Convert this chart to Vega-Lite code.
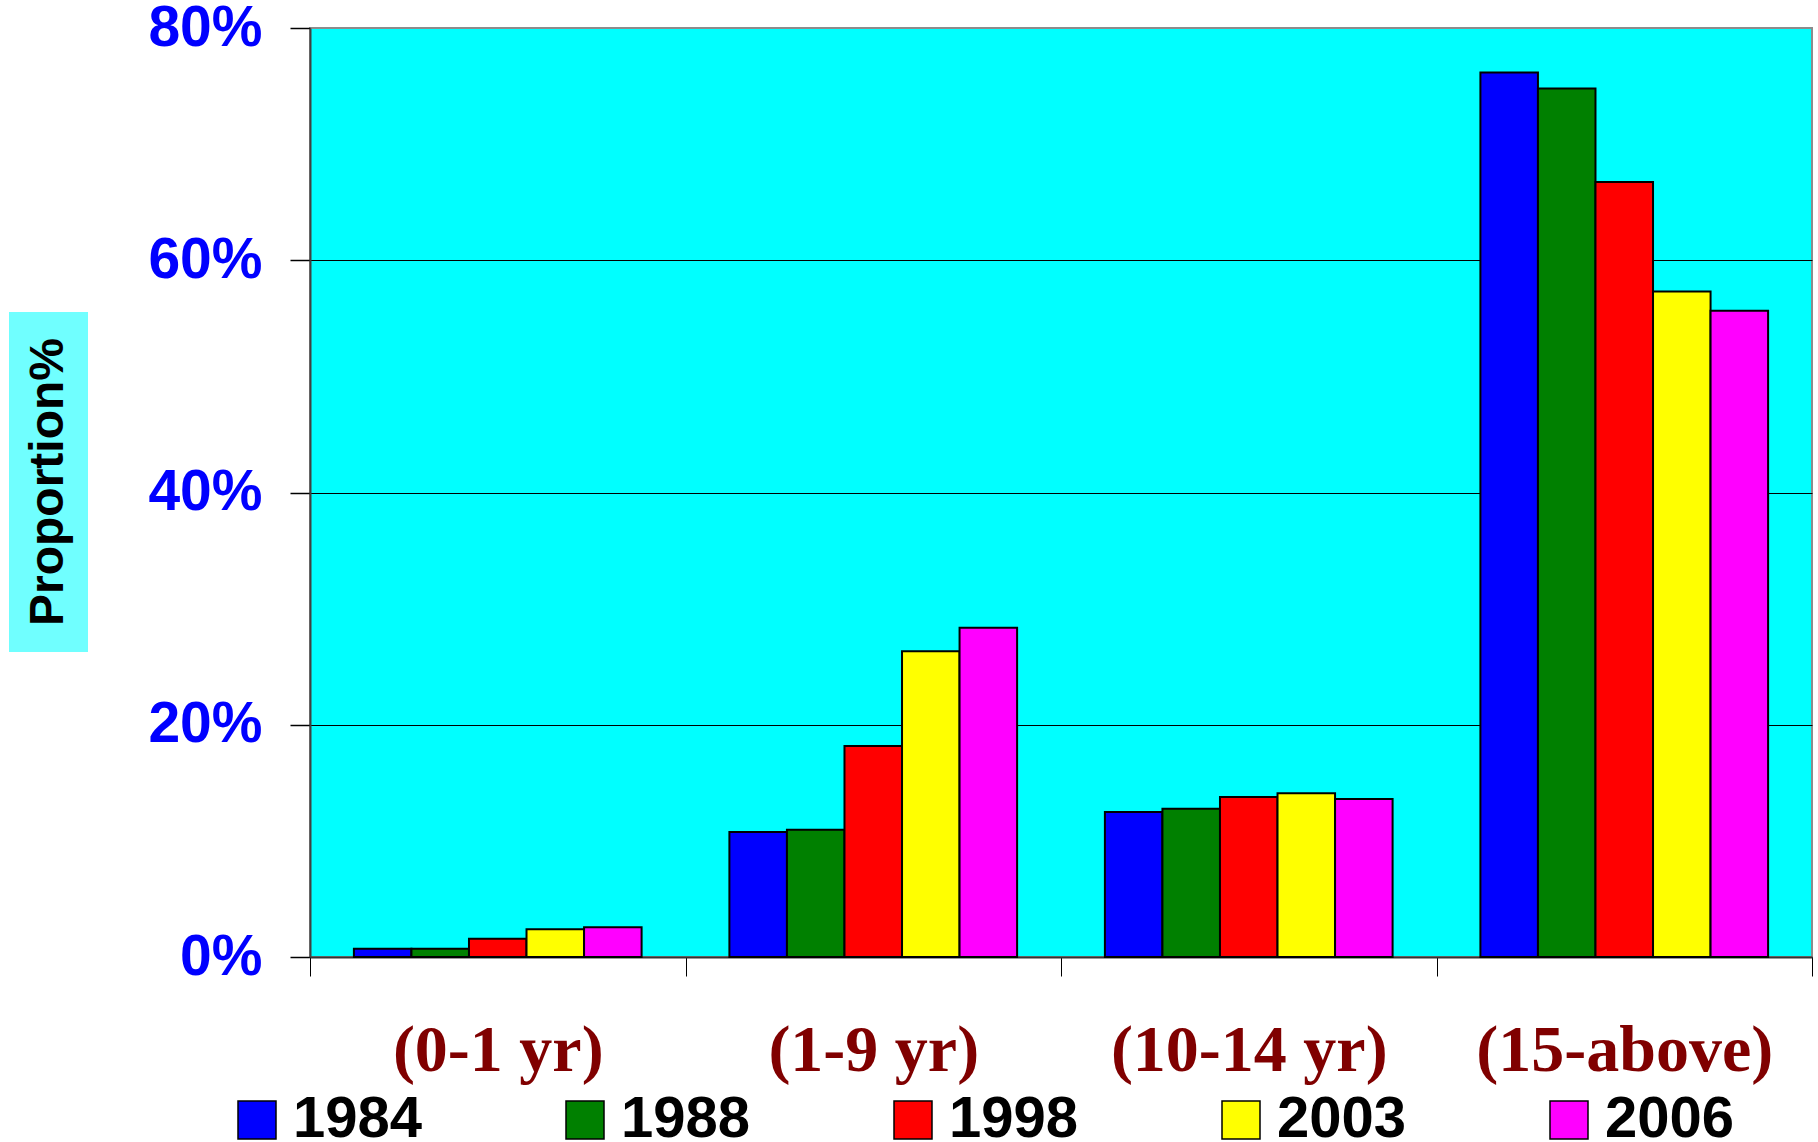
{
  "$schema": "https://vega.github.io/schema/vega-lite/v6.json",
  "padding": {"left": 9, "top": -2, "right": 5, "bottom": 2},
  "background": "white",
  "spacing": 301,
  "bounds": "flush",
  "config": {
    "font": "Liberation Sans"
  },
  "hconcat": [
    {
      "spacing": 20,
      "vconcat": [
        {
          "width": 79,
          "height": 264,
          "view": {"fill": null, "stroke": null},
          "data": {"values": [{"t": ""}]},
          "mark": {"type": "text", "fontSize": 1},
          "encoding": {"text": {"field": "t", "type": "nominal"}}
        },
        {
          "width": 79,
          "height": 340,
          "view": {"fill": "#70ffff", "stroke": null},
          "data": {"values": [{"t": "Proportion%"}]},
          "mark": {
            "type": "text",
            "angle": 270,
            "align": "center",
            "baseline": "middle",
            "font": "Liberation Sans",
            "fontWeight": "bold",
            "fontSize": 48,
            "color": "black"
          },
          "encoding": {"text": {"field": "t", "type": "nominal"}}
        }
      ]
    },
    {
      "width": 1502,
      "height": 929,
      "view": {"fill": "#00FFFF", "stroke": "#8c8c8c", "strokeWidth": 2},
      "data": {
        "values": [
          {"age": "(0-1 yr)", "year": "1984", "value": 0.72},
          {"age": "(0-1 yr)", "year": "1988", "value": 0.72},
          {"age": "(0-1 yr)", "year": "1998", "value": 1.58},
          {"age": "(0-1 yr)", "year": "2003", "value": 2.38},
          {"age": "(0-1 yr)", "year": "2006", "value": 2.56},
          {"age": "(1-9 yr)", "year": "1984", "value": 10.76},
          {"age": "(1-9 yr)", "year": "1988", "value": 10.96},
          {"age": "(1-9 yr)", "year": "1998", "value": 18.16},
          {"age": "(1-9 yr)", "year": "2003", "value": 26.33},
          {"age": "(1-9 yr)", "year": "2006", "value": 28.35},
          {"age": "(10-14 yr)", "year": "1984", "value": 12.48},
          {"age": "(10-14 yr)", "year": "1988", "value": 12.77},
          {"age": "(10-14 yr)", "year": "1998", "value": 13.77},
          {"age": "(10-14 yr)", "year": "2003", "value": 14.11},
          {"age": "(10-14 yr)", "year": "2006", "value": 13.6},
          {"age": "(15-above)", "year": "1984", "value": 76.16},
          {"age": "(15-above)", "year": "1988", "value": 74.8},
          {"age": "(15-above)", "year": "1998", "value": 66.73},
          {"age": "(15-above)", "year": "2003", "value": 57.3},
          {"age": "(15-above)", "year": "2006", "value": 55.65}
        ]
      },
      "mark": {"type": "bar", "stroke": "black", "strokeWidth": 2},
      "encoding": {
        "x": {
          "field": "age",
          "type": "nominal",
          "sort": null,
          "scale": {"paddingInner": 0, "paddingOuter": 0},
          "axis": {
            "title": null,
            "tickBand": "extent",
            "labelAngle": 0,
            "labelLimit": 0,
            "labelFont": "Liberation Serif",
            "labelFontWeight": "bold",
            "labelFontSize": 66,
            "labelColor": "#800000",
            "labelBaseline": "alphabetic",
            "labelPadding": 94,
            "tickSize": 19,
            "tickColor": "black",
            "tickWidth": 1,
            "domainColor": "#333333",
            "domainWidth": 2,
            "grid": false
          }
        },
        "xOffset": {
          "field": "year",
          "type": "nominal",
          "scale": {"paddingInner": 0, "paddingOuter": 0.763}
        },
        "y": {
          "field": "value",
          "type": "quantitative",
          "scale": {"domain": [0, 80], "nice": false},
          "axis": {
            "title": null,
            "values": [0, 20, 40, 60, 80],
            "labelExpr": "datum.value + '%'",
            "labelFont": "Liberation Sans",
            "labelFontWeight": "bold",
            "labelFontSize": 57,
            "labelColor": "#0000FF",
            "labelPadding": 28,
            "tickSize": 20,
            "tickColor": "black",
            "tickWidth": 1.5,
            "domainColor": "#404040",
            "domainWidth": 2,
            "grid": true,
            "gridColor": {"condition": {"test": "datum.value == 80", "value": "#8c8c8c"}, "value": "black"},
            "gridWidth": 1
          }
        },
        "color": {
          "field": "year",
          "type": "nominal",
          "scale": {
            "domain": ["1984", "1988", "1998", "2003", "2006"],
            "range": ["#0000FF", "#008000", "#FF0000", "#FFFF00", "#FF00FF"]
          },
          "legend": {
            "title": null,
            "orient": "none",
            "legendX": 219,
            "legendY": 1063,
            "direction": "horizontal",
            "columns": 5,
            "columnPadding": 133,
            "symbolType": "square",
            "symbolSize": 1444,
            "symbolStrokeColor": "black",
            "symbolStrokeWidth": 1.5,
            "symbolOpacity": 1,
            "labelFont": "Liberation Sans",
            "labelFontWeight": "bold",
            "labelFontSize": 58,
            "labelColor": "black",
            "labelOffset": 7,
            "labelBaseline": "middle"
          }
        }
      }
    }
  ]
}
